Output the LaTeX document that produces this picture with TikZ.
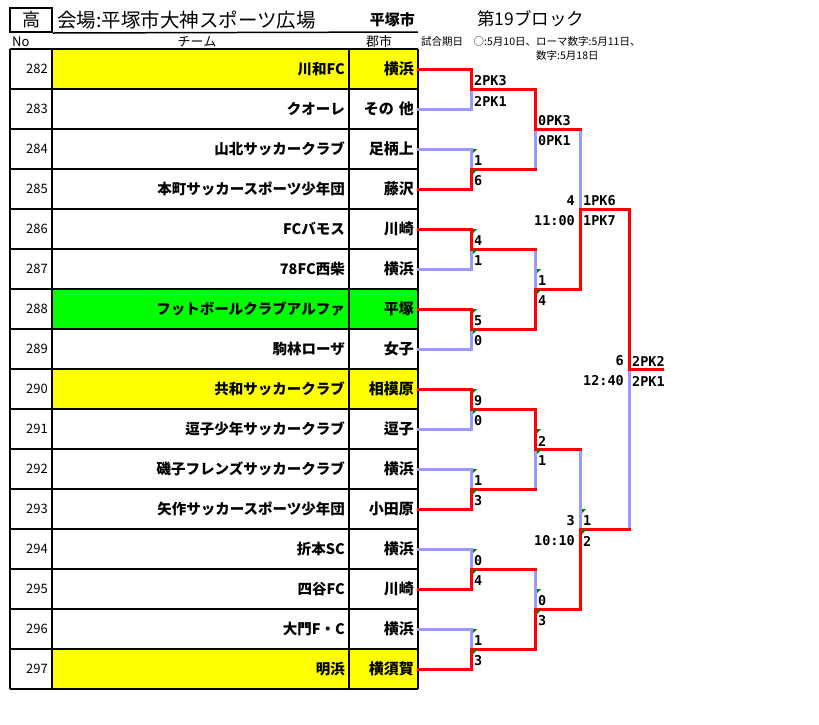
\documentclass[tikz,border=0pt]{standalone}
\usepackage{fontspec}
\usepackage{tikz}
\usetikzlibrary{calc}
\usetikzlibrary{positioning}
\newfontfamily\jpfont{Noto Sans CJK JP}
\newfontfamily\scorefont{DejaVu Sans Mono}
\definecolor{red}{rgb}{1.0,0.0,0.0}
\definecolor{lblue}{rgb}{0.6,0.6,1.0}
\definecolor{yell}{rgb}{1.0,1.0,0.0}
\definecolor{grn}{rgb}{0.0,1.0,0.0}
\definecolor{dgreen}{rgb}{0.0,0.5,0.0}

\begin{document}
\begin{tikzpicture}[x=1pt,y=-1pt,
    rule/.style={black, line width=1.5pt},
    won/.style={red, line width=3pt, line cap=rect},
    lost/.style={lblue, line width=3pt, line cap=rect},
    jp/.style={inner sep=0pt, font=\jpfont\fontsize{#1}{#1}\selectfont},
    jpb/.style={inner sep=0pt, font=\jpfont\bfseries\fontsize{#1}{#1}\selectfont},
    score/.style={inner sep=0pt, font=\scorefont\bfseries\fontsize{13.5}{13.5}\selectfont}]
    \useasboundingbox[fill=white] (0,0) rectangle (819,724);
    %% header
    \node[draw, line width=2pt, minimum width=42pt, minimum height=24pt, jp=18] (ko) at (31,20) {高};
    \node[jp=19.5, anchor=west] (venue) at (57,20) {会場:平塚市大神スポーツ広場};
    \draw[rule] (ko.south east) -- (418,32);
    \node[jpb=15, anchor=east] (hcity) at (415,20) {平塚市};
    \node[jp=17.5, anchor=west] (block) at (477,19) {第19ブロック};
    \node[jp=10.5, anchor=west] (date1) at (421,42) {試合期日　○:5月10日、ローマ数字:5月11日、};
    \node[jp=10.5, anchor=west] (date2) at (536,56) {数字:5月18日};
    \node[jp=13, anchor=west] (hno) at (12,42) {No};
    \node[jp=13] (hteam) at (197,42) {チーム};
    \node[jp=13] (hgun) at (379,42) {郡市};
    %% table
    \foreach \i in {0,8,15} \fill[yell] (52,49+40*\i) rectangle (418,89+40*\i);
    \fill[grn] (52,289) rectangle (418,329);
    \foreach \i in {0,...,16} \draw[rule] (10,49+40*\i) -- (418,49+40*\i);
    \foreach \x in {10,52,349,418} \draw[rule] (\x,49) -- (\x,689);
    \foreach \no/\team/\city [count=\i from 0] in {282/川和FC/横浜, 283/クオーレ/その\hspace{5pt}他,
        284/山北サッカークラブ/足柄上, 285/本町サッカースポーツ少年団/藤沢, 286/FCバモス/川崎,
        287/78FC西柴/横浜, 288/フットボールクラブアルファ/平塚, 289/駒林ローザ/女子,
        290/共和サッカークラブ/相模原, 291/逗子少年サッカークラブ/逗子,
        292/磯子フレンズサッカークラブ/横浜, 293/矢作サッカースポーツ少年団/小田原,
        294/折本SC/横浜, 295/四谷FC/川崎, 296/大門F・C/横浜, 297/明浜/横須賀}{
      \node[jp=13, anchor=east] (no\i) at (48,69+40*\i) {\no};
      \node[jpb=14.5, anchor=east] (tm\i) at (345,69+40*\i) {\team};
      \node[jpb=15, anchor=east] (ct\i) at (414,69+40*\i) {\city};
      \coordinate (s\i) at (418,69+40*\i);
    }
    %% bracket points
    \foreach \k in {0,...,7} \coordinate (a\k) at (471,89+80*\k);
    \foreach \k in {0,...,3} \coordinate (b\k) at (535,129+160*\k);
    \coordinate (c0) at (580,209);
    \coordinate (c1) at (580,529);
    \coordinate (f) at (629,369);
    \coordinate (w) at (662,369);
    %% round 1
    \foreach \k/\v in {0/0,1/1,2/0,3/0,4/0,5/1,6/1,7/1}{
      \pgfmathtruncatemacro\win{2*\k+\v}
      \pgfmathtruncatemacro\los{2*\k+1-\v}
      \draw[lost] (s\los) -| (a\k);
      \draw[won] (s\win) -| (a\k);
    }
    %% round 2
    \foreach \k/\v in {0/0,1/1,2/0,3/1}{
      \pgfmathtruncatemacro\hi{2*\k}
      \pgfmathtruncatemacro\lo{2*\k+1}
      \pgfmathtruncatemacro\win{2*\k+\v}
      \pgfmathtruncatemacro\los{2*\k+1-\v}
      \draw[lost] (a\los -| b\k) -- (b\k);
      \draw[won] (a\hi) -- (a\hi -| b\k);
      \draw[won] (a\lo) -- (a\lo -| b\k);
      \draw[won] (a\win -| b\k) -- (b\k);
    }
    %% round 3
    \draw[lost] (b0 -| c0) -- (c0);
    \draw[won] (b0) -- (b0 -| c0);
    \draw[won] (b1) -- (b1 -| c0) -- (c0);
    \draw[lost] (b2 -| c1) -- (c1);
    \draw[won] (b2) -- (b2 -| c1);
    \draw[won] (b3) -- (b3 -| c1) -- (c1);
    %% final
    \draw[lost] (c1 -| f) -- (f);
    \draw[won] (c1) -- (c1 -| f);
    \draw[won] (c0) -- (c0 -| f) -- (f) -- (w);
    %% scores
    \foreach \k/\up/\dn in {0/2PK3/2PK1,1/1/6,2/4/1,3/5/0,4/9/0,5/1/3,6/0/4,7/1/3}{
      \node[score, anchor=west] (ua\k) at ($(a\k)+(3,-8)$) {\up};
      \node[score, anchor=west] (da\k) at ($(a\k)+(3,12)$) {\dn};
    }
    \foreach \k/\up/\dn in {0/0PK3/0PK1,1/1/4,2/2/1,3/0/3}{
      \node[score, anchor=west] (ub\k) at ($(b\k)+(3,-8)$) {\up};
      \node[score, anchor=west] (db\k) at ($(b\k)+(3,12)$) {\dn};
    }
    \foreach \p/\up/\dn/\gl/\tm in {c0/1PK6/1PK7/4/11:00, c1/1/2/3/10:10, f/2PK2/2PK1/6/12:40}{
      \node[score, anchor=west] (u\p) at ($(\p)+(3,-8)$) {\up};
      \node[score, anchor=west] (d\p) at ($(\p)+(3,12)$) {\dn};
      \node[score, anchor=east] (g\p) at ($(\p)+(-5,-8)$) {\gl};
      \node[score, anchor=east] (t\p) at ($(\p)+(-5,12)$) {\tm};
    }
    %% comment marks
    \foreach \p in {a1,a2,a3,a4,a5,a6,a7,b1,b2,b3,c1}{
      \fill[dgreen] ($(\p)+(2,-20)$) -- ++(4,0) -- ++(-4,4) -- cycle;
      \fill[dgreen] ($(\p)+(2,1)$) -- ++(4,0) -- ++(-4,4) -- cycle;
    }
\end{tikzpicture}
\end{document}
